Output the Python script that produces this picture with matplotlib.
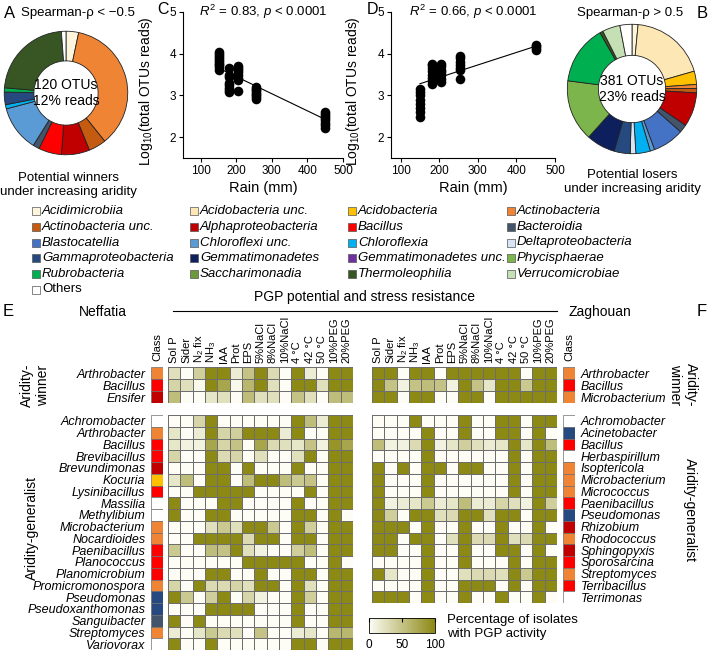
import numpy as np
import matplotlib
matplotlib.use('Agg')
import matplotlib.pyplot as plt
from matplotlib.colors import LinearSegmentedColormap, Normalize
from matplotlib.cm import ScalarMappable
from matplotlib.lines import Line2D

plt.rcParams['font.family'] = ['Liberation Sans', 'DejaVu Sans']
plt.rcParams['mathtext.fontset'] = 'custom'
plt.rcParams['mathtext.rm'] = 'Liberation Sans'
plt.rcParams['mathtext.it'] = 'Liberation Sans:italic'

W, H = 709, 652

# ---- class colours (legend order, row by row) ----
legend_names = ['Acidimicrobiia', 'Acidobacteria unc.', 'Acidobacteria', 'Actinobacteria',
                'Actinobacteria unc.', 'Alphaproteobacteria', 'Bacillus', 'Bacteroidia',
                'Blastocatellia', 'Chloroflexi unc.', 'Chloroflexia', 'Deltaproteobacteria',
                'Gammaproteobacteria', 'Gemmatimonadetes', 'Gemmatimonadetes unc.', 'Phycisphaerae',
                'Rubrobacteria', 'Saccharimonadia', 'Thermoleophilia', 'Verrucomicrobiae',
                'Others']
legend_colors = ['#fdf5dc', '#fde7b4', '#ffc000', '#ef8434',
                 '#c55a11', '#c00000', '#ff0000', '#44546a',
                 '#4472c4', '#5b9bd5', '#00b0f0', '#d6e6f5',
                 '#264a80', '#0d1f5c', '#7030a0', '#7cb54c',
                 '#00b050', '#6a9a3c', '#375623', '#c5e0b4',
                 '#ffffff']
class_colors = dict(zip(legend_names, legend_colors))

# ---- pie A: winners ----
pie_a_names = ['Acidimicrobiia', 'Actinobacteria', 'Actinobacteria unc.', 'Alphaproteobacteria',
               'Bacillus', 'Bacteroidia', 'Chloroflexi unc.', 'Chloroflexia',
               'Gammaproteobacteria', 'Rubrobacteria', 'Thermoleophilia', 'Others']
pie_a_share = [3.3, 36.0, 4.6, 7.4, 6.0, 1.7, 12.0, 1.1, 3.3, 1.1, 22.5, 1.2]

# ---- pie B: losers ----
pie_b_names = ['Acidimicrobiia', 'Acidobacteria unc.', 'Acidobacteria', 'Actinobacteria',
               'Actinobacteria unc.', 'Alphaproteobacteria', 'Bacteroidia', 'Blastocatellia',
               'Chloroflexi unc.', 'Chloroflexia', 'Deltaproteobacteria', 'Gammaproteobacteria',
               'Gemmatimonadetes', 'Phycisphaerae', 'Rubrobacteria', 'Thermoleophilia',
               'Verrucomicrobiae', 'Others']
pie_b_share = [1.5, 19.0, 3.3, 1.0, 1.1, 8.5, 2.0, 7.8, 1.1, 3.6, 1.4, 4.0,
               7.2, 15.3, 14.7, 0.8, 4.4, 3.0]

# ---- scatter C / D ----
rain_sites = [150, 180, 205, 255, 450]
c_reads = [[3.62, 3.68, 3.72, 3.76, 3.8, 3.85, 3.9, 3.95, 4.0, 4.03],
           [3.08, 3.12, 3.18, 3.25, 3.3, 3.45, 3.5, 3.65],
           [3.1, 3.38, 3.42, 3.48, 3.55, 3.6, 3.65, 3.7],
           [2.92, 2.96, 3.0, 3.04, 3.08, 3.12, 3.16, 3.2],
           [2.22, 2.28, 2.35, 2.4, 2.45, 2.5, 2.55, 2.6]]
d_reads = [[2.48, 2.6, 2.7, 2.8, 2.9, 3.0, 3.08, 3.15],
           [3.28, 3.35, 3.42, 3.5, 3.58, 3.65, 3.72, 3.76],
           [3.32, 3.4, 3.48, 3.55, 3.62, 3.7, 3.75],
           [3.4, 3.6, 3.65, 3.72, 3.8, 3.9, 3.95],
           [4.1, 4.14, 4.18, 4.2]]
fit_c = (-0.0041, 4.27)   # slope, intercept
fit_d = (0.0030, 2.83)

# ---- heatmaps ----
pgp_tests = ['Sol P', 'Sider', 'N$_2$ fix', 'NH$_3$', 'IAA', 'Prot', 'EPS', '5%NaCl',
             '8%NaCl', '10%NaCl', '4 °C', '42 °C', '50 °C', '10%PEG', '20%PEG']

nef_win_genera = ['Arthrobacter', 'Bacillus', 'Ensifer']
nef_win_class = ['Actinobacteria', 'Bacillus', 'Alphaproteobacteria']
nef_win = [[25, 0, 40, 100, 100, 15, 50, 100, 30, 0, 100, 15, 0, 100, 100],
           [35, 25, 5, 100, 75, 5, 60, 100, 25, 0, 100, 100, 25, 100, 100],
           [55, 0, 0, 20, 25, 0, 55, 25, 25, 0, 50, 25, 0, 55, 55]]

nef_gen_genera = ['Achromobacter', 'Arthrobacter', 'Bacillus', 'Brevibacillus', 'Brevundimonas',
                  'Kocuria', 'Lysinibacillus', 'Massilia', 'Methylibium', 'Microbacterium',
                  'Nocardioides', 'Paenibacillus', 'Planococcus', 'Planomicrobium',
                  'Promicromonospora', 'Pseudomonas', 'Pseudoxanthomonas', 'Sanguibacter',
                  'Streptomyces', 'Variovorax']
nef_gen_class = ['Others', 'Actinobacteria', 'Bacillus', 'Bacillus', 'Alphaproteobacteria',
                 'Acidobacteria', 'Bacillus', 'Others', 'Others', 'Actinobacteria',
                 'Actinobacteria', 'Bacillus', 'Bacillus', 'Bacillus',
                 'Actinobacteria', 'Gammaproteobacteria', 'Gammaproteobacteria', 'Bacteroidia',
                 'Actinobacteria', 'Others']
nef_gen = [[0, 0, 35, 100, 0, 0, 0, 0, 0, 0, 100, 55, 15, 100, 100],
           [20, 0, 15, 100, 35, 40, 100, 100, 100, 15, 100, 0, 0, 100, 100],
           [20, 10, 10, 75, 35, 50, 0, 75, 30, 25, 20, 50, 10, 90, 75],
           [35, 0, 0, 100, 30, 35, 0, 25, 0, 0, 25, 100, 0, 100, 100],
           [0, 0, 0, 100, 100, 0, 100, 0, 0, 0, 100, 0, 0, 100, 100],
           [20, 55, 0, 100, 100, 0, 55, 100, 100, 55, 45, 50, 0, 100, 100],
           [0, 0, 100, 100, 100, 100, 100, 0, 0, 0, 0, 100, 0, 100, 100],
           [100, 0, 0, 0, 100, 100, 0, 0, 0, 0, 100, 0, 0, 100, 100],
           [100, 0, 0, 100, 100, 0, 0, 0, 0, 0, 100, 100, 0, 100, 0],
           [0, 0, 0, 25, 45, 25, 100, 100, 45, 0, 100, 40, 0, 100, 100],
           [0, 0, 100, 100, 100, 100, 30, 100, 100, 0, 100, 100, 0, 100, 100],
           [45, 0, 0, 55, 50, 100, 25, 10, 0, 0, 40, 55, 0, 100, 100],
           [0, 0, 0, 0, 0, 0, 100, 100, 100, 100, 100, 0, 0, 100, 0],
           [0, 0, 0, 100, 100, 0, 0, 100, 0, 0, 100, 100, 0, 100, 100],
           [35, 0, 100, 30, 30, 35, 25, 100, 100, 0, 100, 25, 0, 100, 100],
           [100, 45, 0, 40, 100, 0, 35, 10, 0, 0, 100, 40, 0, 100, 100],
           [0, 0, 0, 100, 100, 100, 100, 0, 0, 0, 100, 0, 0, 100, 100],
           [100, 0, 100, 0, 0, 0, 0, 0, 0, 0, 100, 0, 0, 100, 100],
           [15, 0, 20, 45, 30, 25, 0, 50, 0, 0, 15, 20, 0, 60, 60],
           [100, 0, 0, 100, 0, 0, 0, 0, 0, 0, 100, 100, 0, 100, 100]]

zag_win_genera = ['Arthrobacter', 'Bacillus', 'Microbacterium']
zag_win_class = ['Actinobacteria', 'Bacillus', 'Actinobacteria']
zag_win = [[100, 100, 0, 100, 100, 0, 100, 100, 100, 100, 100, 100, 0, 100, 100],
           [100, 50, 10, 50, 55, 50, 10, 100, 50, 20, 100, 100, 45, 100, 100],
           [100, 100, 0, 100, 100, 0, 0, 100, 100, 0, 100, 100, 100, 100, 100]]

zag_gen_genera = ['Achromobacter', 'Acinetobacter', 'Bacillus', 'Herbaspirillum', 'Isoptericola',
                  'Microbacterium', 'Micrococcus', 'Paenibacillus', 'Pseudomonas', 'Rhizobium',
                  'Rhodococcus', 'Sphingopyxis', 'Sporosarcina', 'Streptomyces', 'Terribacillus',
                  'Terrimonas']
zag_gen_class = ['Others', 'Gammaproteobacteria', 'Bacillus', 'Others', 'Actinobacteria',
                 'Actinobacteria', 'Actinobacteria', 'Bacillus', 'Gammaproteobacteria',
                 'Alphaproteobacteria', 'Actinobacteria', 'Alphaproteobacteria', 'Bacillus',
                 'Actinobacteria', 'Bacillus', 'Others']
zag_gen = [[0, 0, 0, 100, 0, 0, 0, 100, 0, 0, 100, 100, 0, 100, 100],
           [0, 0, 0, 0, 100, 0, 0, 100, 0, 0, 100, 100, 0, 100, 0],
           [55, 10, 10, 30, 100, 10, 20, 40, 25, 15, 20, 100, 20, 100, 55],
           [0, 0, 0, 0, 100, 0, 0, 0, 0, 0, 0, 100, 0, 100, 100],
           [100, 0, 100, 0, 100, 100, 0, 100, 100, 0, 0, 100, 0, 100, 100],
           [100, 0, 0, 0, 100, 0, 0, 0, 0, 0, 0, 100, 0, 100, 100],
           [100, 0, 0, 0, 100, 0, 0, 0, 0, 0, 0, 100, 0, 100, 100],
           [100, 10, 15, 20, 45, 15, 20, 55, 15, 15, 35, 25, 10, 100, 40],
           [100, 40, 0, 100, 100, 25, 30, 100, 100, 25, 100, 100, 0, 100, 100],
           [100, 100, 100, 0, 100, 0, 0, 100, 0, 0, 100, 0, 0, 100, 0],
           [100, 100, 0, 100, 100, 0, 25, 100, 30, 30, 100, 25, 30, 100, 100],
           [100, 100, 0, 0, 100, 0, 0, 100, 0, 0, 100, 100, 0, 100, 0],
           [0, 0, 0, 0, 100, 0, 0, 100, 0, 0, 0, 100, 0, 100, 100],
           [100, 20, 0, 0, 100, 0, 0, 25, 30, 30, 25, 100, 45, 100, 100],
           [0, 0, 0, 0, 100, 0, 0, 100, 100, 100, 0, 100, 0, 100, 100],
           [100, 100, 100, 0, 100, 0, 0, 100, 0, 0, 100, 0, 0, 100, 0]]

pgp_cmap = LinearSegmentedColormap.from_list('pgp', ['#fdfdf6', '#8c8914'])

fig = plt.figure(figsize=(W / 100, H / 100), dpi=100)


def box(x0, y0, x1, y1):
    return [x0 / W, 1 - y1 / H, (x1 - x0) / W, (y1 - y0) / H]


def ftext(x, y, s, **kw):
    kw.setdefault('ha', 'center')
    kw.setdefault('va', 'center')
    fig.text(x / W, 1 - y / H, s, **kw)


# ---------- donuts ----------
def donut(rect, names, shares, centre):
    ax = fig.add_axes(rect)
    ax.pie(shares, colors=[class_colors[n] for n in names], startangle=90, counterclock=False,
           wedgeprops=dict(width=0.48, edgecolor='#222222', linewidth=0.6))
    ax.set_xlim(-1.02, 1.02)
    ax.set_ylim(-1.02, 1.02)
    ax.text(0, 0, centre, ha='center', va='center', fontsize=10, linespacing=1.15)


donut(box(3, 30, 129, 156), pie_a_names, pie_a_share, '120 OTUs\n12% reads')
donut(box(566, 23, 698, 155), pie_b_names, pie_b_share, '381 OTUs\n23% reads')
ftext(10, 13, 'A', fontsize=12)
ftext(78, 13, 'Spearman-ρ < −0.5', fontsize=9.5)
ftext(68, 185, 'Potential winners\nunder increasing aridity', fontsize=9.5, linespacing=1.2)
ftext(702, 13, 'B', fontsize=12)
ftext(630, 13, 'Spearman-ρ > 0.5', fontsize=9.5)
ftext(632, 182, 'Potential losers\nunder increasing aridity', fontsize=9.5, linespacing=1.2)


# ---------- scatters ----------
def scatter_panel(rect, reads, fit, note, xmin):
    ax = fig.add_axes(rect)
    for x, ys in zip(rain_sites, reads):
        ax.scatter([x] * len(ys), ys, s=48, color='black', zorder=3, linewidths=0)
    xs = np.array([min(rain_sites), max(rain_sites)])
    ax.plot(xs, fit[0] * xs + fit[1], color='black', lw=0.8)
    ax.set_xlim(xmin, 500)
    ax.set_ylim(1.5, 5)
    ax.set_xticks([100, 200, 300, 400, 500])
    ax.set_yticks([2, 3, 4, 5])
    ax.spines[['top', 'right']].set_visible(False)
    ax.spines[['left', 'bottom']].set_linewidth(0.8)
    ax.tick_params(labelsize=8.5, length=3, width=0.8, pad=2)
    ax.set_xlabel('Rain (mm)', fontsize=10.5, labelpad=3)
    ax.set_ylabel('Log$_{10}$(total OTUs reads)', fontsize=10)
    ax.yaxis.set_label_coords(-0.178, 0.46)
    ax.text(0.5, 1.0, note, transform=ax.transAxes, ha='center', va='center', fontsize=9.5)
    return ax


scatter_panel(box(183, 12, 343, 158), c_reads, fit_c, '$R^2$ = 0.83, $p$ < 0.0001', 50)
scatter_panel(box(391, 12, 555, 158), d_reads, fit_d, '$R^2$ = 0.66, $p$ < 0.0001', 75)
ftext(163, 10, 'C', fontsize=11.5)
ftext(372, 10, 'D', fontsize=11.5)

# ---------- legend ----------
lax = fig.add_axes([0, 0, 1, 1])
lax.set_xlim(0, W)
lax.set_ylim(H, 0)
lax.axis('off')
col_x = [36, 194, 352, 511]
row_y = [211, 227, 242.5, 258, 274, 289.5]
for i, (name, col) in enumerate(zip(legend_names, legend_colors)):
    cx, ry = col_x[i % 4], row_y[i // 4]
    lax.scatter([cx], [ry], marker='s', s=30, color=col, edgecolors='#555555', linewidths=0.5)
    lax.text(cx + 6, ry, name, va='center', ha='left', fontsize=9.5,
             fontstyle='normal' if name == 'Others' else 'italic')

# ---------- heatmaps ----------
def heat(rect, values, headers=False):
    ax = fig.add_axes(rect)
    ax.pcolormesh(np.array(values), cmap=pgp_cmap, vmin=0, vmax=100,
                  edgecolors='#6e6e6e', linewidth=0.5)
    ax.set_xlim(0, len(values[0]))
    ax.set_ylim(len(values), 0)
    ax.set_yticks([])
    if headers:
        ax.xaxis.tick_top()
        ax.set_xticks(np.arange(len(pgp_tests)) + 0.5, labels=pgp_tests, rotation=90, fontsize=8)
        ax.tick_params(length=0, pad=3)
    else:
        ax.set_xticks([])
    for s in ax.spines.values():
        s.set_visible(False)


def class_col(rect, genera, classes, side, headers=False):
    ax = fig.add_axes(rect)
    pos = np.arange(len(classes)) + 0.5
    ax.barh(pos, 1, height=1, color=[class_colors[c] for c in classes],
            edgecolor='#6e6e6e', linewidth=0.5)
    ax.set_xlim(0, 1)
    ax.set_ylim(len(classes), 0)
    ax.set_yticks(pos, labels=genera, fontstyle='italic', fontsize=9)
    if side == 'right':
        ax.yaxis.tick_right()
    if headers:
        ax.xaxis.tick_top()
        ax.set_xticks([0.5], labels=['Class'], rotation=90, fontsize=8)
    else:
        ax.set_xticks([])
    ax.tick_params(length=0, pad=4)
    for s in ax.spines.values():
        s.set_visible(False)


heat(box(168, 367, 353, 403), nef_win, headers=True)
heat(box(168, 415, 353, 650), nef_gen)
class_col(box(151, 367, 163, 403), nef_win_genera, nef_win_class, 'left', headers=True)
class_col(box(151, 415, 163, 650), nef_gen_genera, nef_gen_class, 'left')

heat(box(372, 367, 557, 403), zag_win, headers=True)
heat(box(372, 415, 557, 603), zag_gen)
class_col(box(563, 367, 575, 403), zag_win_genera, zag_win_class, 'right', headers=True)
class_col(box(563, 415, 575, 603), zag_gen_genera, zag_gen_class, 'right')

ftext(8, 312, 'E', fontsize=12)
ftext(702, 311, 'F', fontsize=12)
ftext(103, 312, 'Neffatia', fontsize=10)
ftext(600, 312, 'Zaghouan', fontsize=10)
ftext(365, 297, 'PGP potential and stress resistance', fontsize=10)
fig.add_artist(Line2D([173 / W, 557 / W], [1 - 311 / H, 1 - 311 / H], color='black', lw=0.8))

ftext(35, 385, 'Aridity-\nwinner', fontsize=10, rotation=90, linespacing=1.1)
ftext(32, 528, 'Aridity-generalist', fontsize=10, rotation=90)
ftext(683, 385, 'Aridity-\nwinner', fontsize=10, rotation=270, linespacing=1.1)
ftext(690, 510, 'Aridity-generalist', fontsize=10, rotation=270)

cax = fig.add_axes(box(369, 618, 435, 633))
cb = fig.colorbar(ScalarMappable(norm=Normalize(0, 100), cmap=pgp_cmap), cax=cax,
                  orientation='horizontal', ticks=[0, 50, 100])
cb.ax.tick_params(labelsize=8.5, length=3, direction='in', top=True, bottom=False, pad=4)
cb.outline.set_linewidth(0.6)
ftext(447, 627, 'Percentage of isolates\nwith PGP activity', fontsize=9.5, ha='left',
      linespacing=1.2)

fig.savefig('out.png', dpi=100)
